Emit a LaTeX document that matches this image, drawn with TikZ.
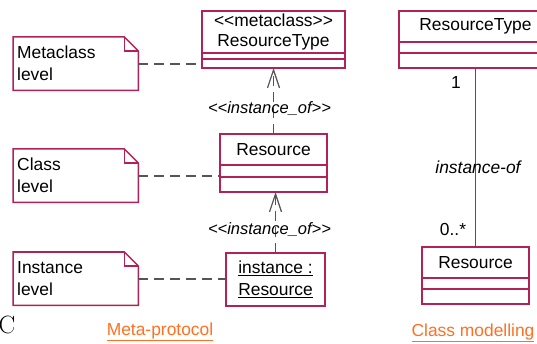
\documentclass[tikz,border=0pt]{standalone}
\usepackage{fontspec}
\newfontfamily\umlfont{Liberation Sans}
\usetikzlibrary{positioning, arrows.meta, calc}
\definecolor{UmlRed}{RGB}{178, 34, 86}
\definecolor{UmlGrey}{RGB}{85, 85, 85}
\definecolor{UmlOrange}{RGB}{255, 112, 32}
\colorlet{BoxStroke}{UmlRed}
\colorlet{NoteStroke}{UmlRed}
\colorlet{LinkColor}{UmlGrey}
\tikzset{
    % Class compartment (name, attributes, operations)
    umlclass/.style={
        draw=BoxStroke,
        fill=white,
        rectangle,
        inner sep=0pt,
        outer sep=0pt,
        align=center,
        font=\umlfont\fontsize{17.4}{20}\selectfont,
        line width=1.8pt
    },
    % Note text box (outline drawn afterwards)
    umlnote/.style={
        rectangle,
        anchor=north west,
        text width=117pt,
        inner xsep=4pt,
        inner ysep=0pt,
        minimum height=53pt,
        align=left,
        font=\umlfont\fontsize{17.4}{22}\selectfont
    },
    notestroke/.style={
        draw=NoteStroke,
        line width=1.5pt,
        line join=miter
    },
    % Dashed note link
    leveldash/.style={
        draw=LinkColor,
        line width=1.8pt,
        dash pattern=on 10pt off 6pt
    },
    % Dashed instance_of dependency
    instarrow/.style={
        -{Straight Barb[length=18pt, width=12pt, line width=1.2pt]},
        draw=LinkColor,
        line width=1.5pt,
        dash pattern=on 10pt off 6pt
    },
    assoc/.style={
        draw=BoxStroke,
        line width=1.8pt
    },
    umllabel/.style={
        inner sep=0pt,
        font=\umlfont\fontsize{16.5}{20}\selectfont\itshape
    },
    plainlabel/.style={
        inner sep=0pt,
        font=\umlfont\fontsize{17.4}{20}\selectfont
    },
    caption/.style={
        inner sep=0pt,
        text=UmlOrange,
        font=\umlfont\fontsize{17.4}{20}\selectfont
    }
}

\begin{document}
\begin{tikzpicture}[x=1pt, y=-1pt]
    \useasboundingbox (0,0) rectangle (537,344);

    % ==========================================
    % LEFT: META-PROTOCOL
    % ==========================================

    % Metaclass
    \node[umlclass, anchor=north west, minimum width=143pt, minimum height=42pt] (mtype) at (202,11) {<{}<metaclass>{}>\\ResourceType};
    \node[umlclass, minimum width=143pt, minimum height=6pt, below=0pt of mtype] (mtypeA) {};
    \node[umlclass, minimum width=143pt, minimum height=9pt, below=0pt of mtypeA] (mtypeO) {};

    % Class
    \node[umlclass, anchor=north west, minimum width=107pt, minimum height=31pt] (res) at (220,134) {Resource};
    \node[umlclass, minimum width=107pt, minimum height=12pt, below=0pt of res] (resA) {};
    \node[umlclass, minimum width=107pt, minimum height=15pt, below=0pt of resA] (resO) {};

    % Instance
    \node[umlclass, anchor=north west, minimum width=99pt, minimum height=53pt,
          font=\umlfont\fontsize{17.4}{22}\selectfont] (inst) at (226,253) {\underline{instance :}\\\underline{Resource}};

    % Notes
    \node[umlnote] (nmeta) at (13,37) {Metaclass\\level};
    \node[umlnote] (nclass) at (13,149) {Class\\level};
    \node[umlnote] (ninst) at (13,252) {Instance\\level};
    \foreach \n in {nmeta, nclass, ninst} {
        \draw[notestroke] (\n.north west) -- ([xshift=-14pt]\n.north east)
            -- ([yshift=-14pt]\n.north east) -- (\n.south east) -- (\n.south west) -- cycle;
        \draw[notestroke] ([xshift=-14pt]\n.north east) |- ([yshift=-14pt]\n.north east);
    }

    % Note links
    \draw[leveldash] (nmeta.east) -- (nmeta.east -| mtype.west);
    \draw[leveldash] (nclass.east) -- (nclass.east -| res.west);
    \draw[leveldash] (ninst.east) -- (ninst.east -| inst.west);

    % instance_of dependencies
    \draw[instarrow] (res.north) -- (mtypeO.south)
        node[umllabel, pos=0.39, xshift=-4pt] (lblone) {<{}<instance\_of>{}>};
    \draw[instarrow] (inst.north) -- (inst.north |- resO.south)
        node[umllabel, pos=0.38, xshift=-6pt] (lbltwo) {<{}<instance\_of>{}>};

    \node[caption] (capmeta) at (160,332) {\underline{Meta-protocol}};
    \node[anchor=base west, inner sep=0pt, font=\fontsize{25}{25}\selectfont] (clip) at (-1.5,333) {C};

    % ==========================================
    % RIGHT: CLASS MODELLING
    % ==========================================

    \node[umlclass, anchor=north west, minimum width=153pt, minimum height=31pt] (rtype) at (399,11) {ResourceType};
    \node[umlclass, minimum width=153pt, minimum height=11pt, below=0pt of rtype] (rtypeA) {};
    \node[umlclass, minimum width=153pt, minimum height=15pt, below=0pt of rtypeA] (rtypeO) {};

    \node[umlclass, anchor=north west, minimum width=107pt, minimum height=31pt] (res2) at (422,247) {Resource};
    \node[umlclass, minimum width=107pt, minimum height=11pt, below=0pt of res2] (res2A) {};
    \node[umlclass, minimum width=107pt, minimum height=15pt, below=0pt of res2A] (res2O) {};

    \draw[assoc] (rtypeO.south) -- (res2.north);
    \node[plainlabel] (multone) at (456,83) {1};
    \node[umllabel, font=\umlfont\fontsize{17.4}{20}\selectfont\itshape] (assoclbl) at (478,167) {instance-of};
    \node[plainlabel] (multmany) at (453,230) {0..*};

    \node[caption] (capclass) at (473,333) {\underline{Class modelling}};
\end{tikzpicture}
\end{document}
